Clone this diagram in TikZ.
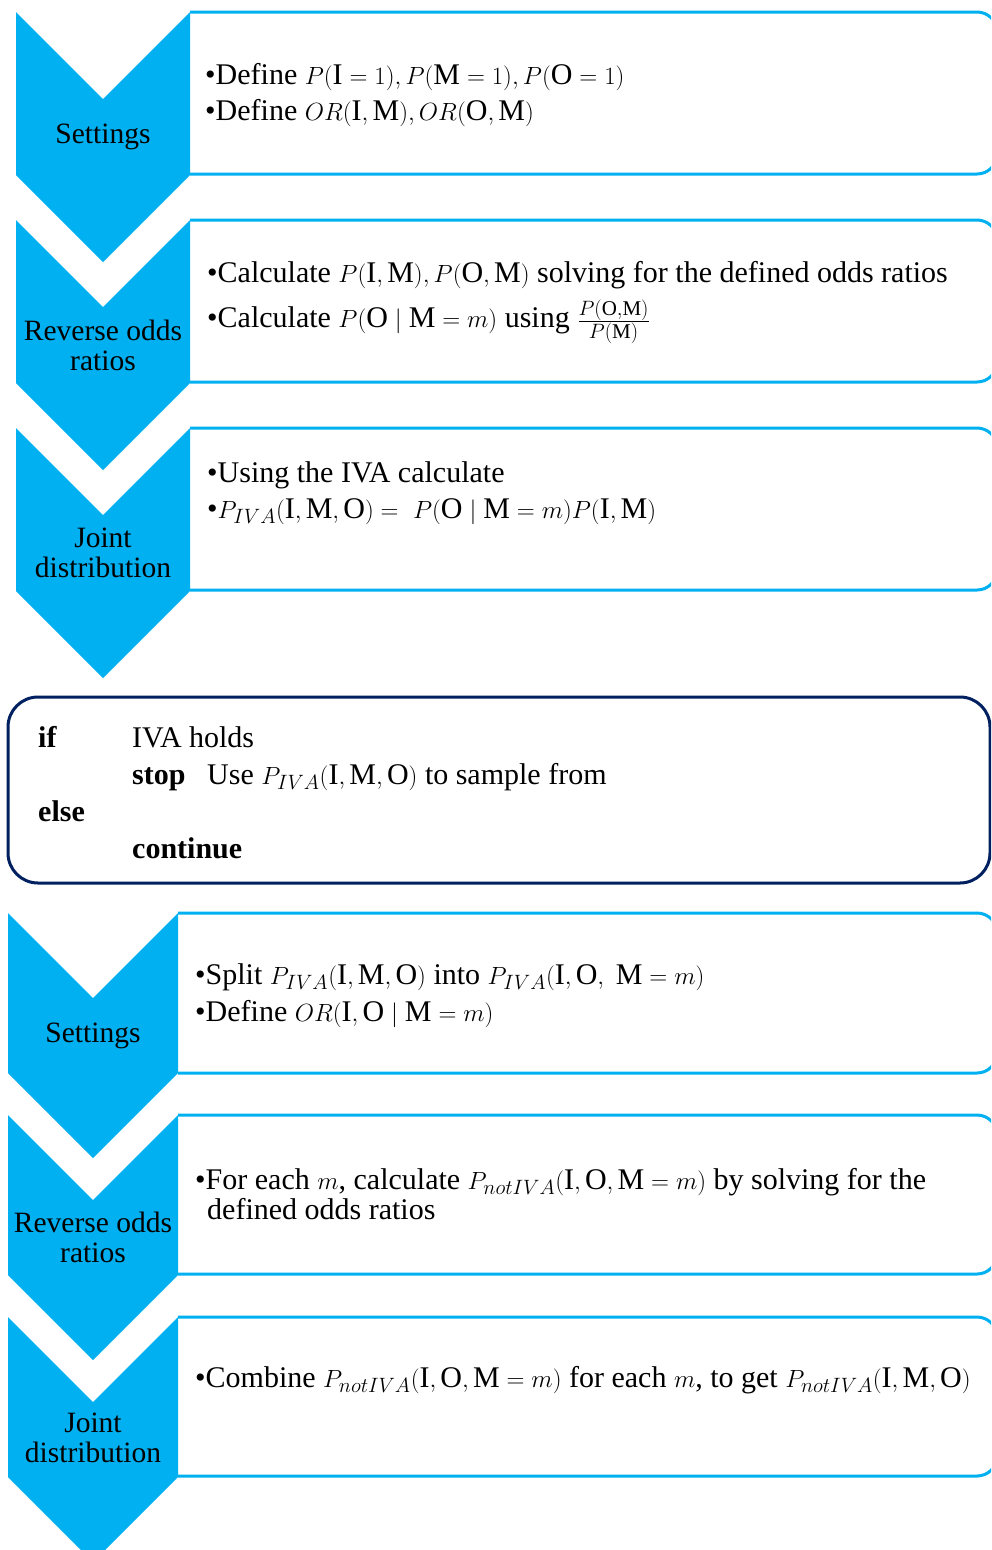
\documentclass[tikz,border=0pt]{standalone}
\usepackage{fontspec}
\setmainfont{Liberation Serif}
\definecolor{chevblue}{HTML}{00B0F0}
\definecolor{ifnavy}{HTML}{002060}
\newcommand{\rI}{\mathrm{I}}
\newcommand{\rM}{\mathrm{M}}
\newcommand{\rO}{\mathrm{O}}
\tikzstyle{chevron} = [fill=chevblue]
\tikzstyle{stepbox} = [draw=chevblue, line width=3pt, rounded corners=20pt]
\tikzstyle{decbox} = [draw=ifnavy, line width=3pt, rounded corners=30pt]
\tikzstyle{steplabel} = [align=center, font=\fontsize{29.5}{30}\selectfont, inner sep=0pt]
\tikzstyle{boxtext} = [anchor=base west, font=\fontsize{30}{36}\selectfont, inner sep=0pt]

\begin{document}
\begin{tikzpicture}[x=1pt, y=-1pt]
      \useasboundingbox (0,0) rectangle (991,1550);
      \clip (0,0) rectangle (991,1550);

      % first pass
      \draw[stepbox] (190,12) -- (997,12) -- (997,174) -- (190,174);
      \draw[stepbox] (190,220) -- (997,220) -- (997,382) -- (190,382);
      \draw[stepbox] (190,428) -- (997,428) -- (997,590) -- (190,590);
      \fill[chevron] (16,12) -- (103,99) -- (190,12) -- (190,175) -- (103,262) -- (16,175) -- cycle;
      \fill[chevron] (16,220) -- (103,307) -- (190,220) -- (190,383) -- (103,470) -- (16,383) -- cycle;
      \fill[chevron] (16,428) -- (103,515) -- (190,428) -- (190,591) -- (103,678) -- (16,591) -- cycle;

      \node[steplabel] (set1) at (103,137) {Settings};
      \node[steplabel] (rev1) at (103,345) {Reverse odds\\ratios};
      \node[steplabel] (joint1) at (103,553) {Joint\\distribution};

      \node[boxtext] (s1a) at (205,84) {•Define $P(\rI=1), P(\rM=1), P(\rO=1)$};
      \node[boxtext] (s1b) at (205,120) {•Define $OR(\rI,\rM), OR(\rO,\rM)$};
      \node[boxtext] (r1a) at (207,282) {•Calculate $P(\rI,\rM), P(\rO,\rM)$ solving for the defined odds ratios};
      \node[boxtext] (r1b) at (207,327) {•Calculate $P(\rO\mid\rM=m)$ using $\frac{P(\rO,\rM)\rule[-4pt]{0pt}{0pt}}{\rule{0pt}{17pt}P(\rM)}$};
      \node[boxtext] (j1a) at (207,482) {•Using the IVA calculate};
      \node[boxtext] (j1b) at (207,518) {•$P_{IVA}(\rI,\rM,\rO) = \ P(\rO\mid\rM=m)P(\rI,\rM)$};

      % decision
      \draw[decbox] (8,697) rectangle (990,883);
      \node[boxtext] (if) at (38,747) {\textbf{if}};
      \node[boxtext] (holds) at (132,747) {IVA holds};
      \node[boxtext] (stop) at (132,784) {\textbf{stop}};
      \node[boxtext] (use) at (207,784) {Use $P_{IVA}(\rI,\rM,\rO)$ to sample from};
      \node[boxtext] (else) at (38,821) {\textbf{else}};
      \node[boxtext] (cont) at (132,858) {\textbf{continue}};

      % second pass
      \draw[stepbox] (178,913) -- (997,913) -- (997,1073) -- (178,1073);
      \draw[stepbox] (178,1115) -- (997,1115) -- (997,1274) -- (178,1274);
      \draw[stepbox] (178,1317) -- (997,1317) -- (997,1476) -- (178,1476);
      \fill[chevron] (8,913) -- (93,998) -- (178,913) -- (178,1073) -- (93,1158) -- (8,1073) -- cycle;
      \fill[chevron] (8,1115) -- (93,1200) -- (178,1115) -- (178,1275) -- (93,1360) -- (8,1275) -- cycle;
      \fill[chevron] (8,1317) -- (93,1402) -- (178,1317) -- (178,1477) -- (93,1562) -- (8,1477) -- cycle;

      \node[steplabel] (set2) at (93,1036) {Settings};
      \node[steplabel] (rev2) at (93,1237) {Reverse odds\\ratios};
      \node[steplabel] (joint2) at (93,1438) {Joint\\distribution};

      \node[boxtext] (s2a) at (195,984) {•Split $P_{IVA}(\rI,\rM,\rO)$ into $P_{IVA}(\rI,\rO,\ \rM=m)$};
      \node[boxtext] (s2b) at (195,1021) {•Define $OR(\rI,\rO\mid\rM=m)$};
      \node[boxtext] (r2a) at (195,1189) {•For each $m$, calculate $P_{notIVA}(\rI,\rO,\rM=m)$ by solving for the};
      \node[boxtext] (r2b) at (207,1219) {defined odds ratios};
      \node[boxtext] (j2a) at (195,1387) {•Combine $P_{notIVA}(\rI,\rO,\rM=m)$ for each $m$, to get $P_{notIVA}(\rI,\rM,\rO)$};
    \end{tikzpicture}
\end{document}
